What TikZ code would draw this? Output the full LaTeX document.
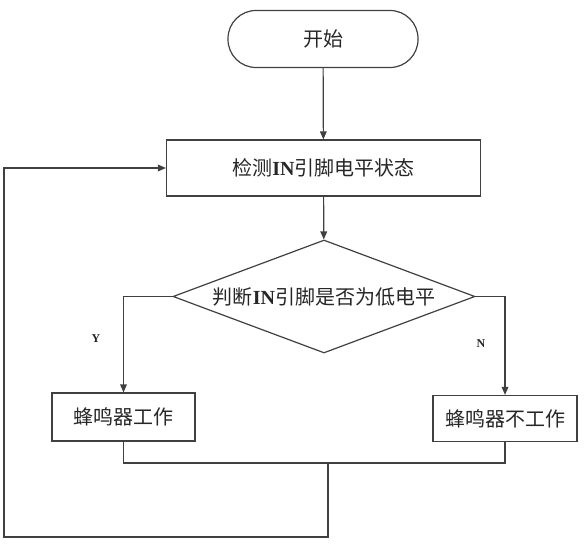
\documentclass[tikz,border=0pt]{standalone}
\usepackage{fontspec}
\setmainfont{Liberation Serif}
\newfontfamily\cjk{Noto Sans CJK SC}
\usepackage{tikz}
\usetikzlibrary{shapes,arrows,positioning,calc,arrows.meta}

\definecolor{linegray}{gray}{0.25}
\definecolor{textgray}{gray}{0.15}
\tikzset{
    flowline/.style={line width=0.9pt, draw=linegray},
    flowarrow/.style={flowline, -{Triangle[length=6pt,width=5pt]}},
    stepbox/.style={draw=linegray, line width=0.9pt, rectangle, inner sep=0pt,
        text=textgray, font=\fontsize{15pt}{18pt}\selectfont},
    decision/.style={stepbox, diamond, aspect=2.67},
    branchlabel/.style={text=textgray, font=\fontsize{9pt}{10pt}\selectfont\bfseries}
}

\begin{document}
\begin{tikzpicture}[x=0.75pt, y=-0.75pt]
    \useasboundingbox (0,0) rectangle (585,549);

    % Start
    \node [stepbox, rounded corners=21pt, minimum width=142.5pt, minimum height=42.75pt]
        (start) at (323,39) {{\cjk 开始}};

    % Read the pin
    \node [stepbox, minimum width=235.5pt, minimum height=42pt]
        (check) at (323.5,168) {{\cjk 检测}\textbf{IN}{\cjk 引脚电平状态}};

    % Decision
    \node [decision, minimum width=226.5pt, minimum height=84.75pt]
        (judge) at (324,296.5) {{\cjk 判断}\textbf{IN}{\cjk 引脚是否为低电平}};

    % Branches
    \node [stepbox, minimum width=107.25pt, minimum height=36pt]
        (buzzon) at (123.5,417) {{\cjk 蜂鸣器工作}};
    \node [stepbox, minimum width=108pt, minimum height=34.5pt]
        (buzzoff) at (505,418.5) {{\cjk 蜂鸣器不工作}};

    \node [branchlabel] (ylabel) at (96,339) {Y};
    \node [branchlabel] (nlabel) at (481,344) {N};

    % Flow
    \draw [flowarrow] (start) -- (check);
    \draw [flowarrow] (check) -- (judge);
    \draw [flowarrow] (judge.west) -| (buzzon.north);
    \draw [flowarrow] (judge.east) -| (buzzoff.north);

    % Merge and loop back
    \coordinate (merge) at (328,463);
    \coordinate (loopdown) at (328,537);
    \coordinate (loopleft) at (4,537);
    \draw [flowline] (buzzon.south) |- (merge) -| (buzzoff.south);
    \draw [flowarrow] (merge) -- (loopdown) -- (loopleft) |- (check.west);
\end{tikzpicture}
\end{document}
